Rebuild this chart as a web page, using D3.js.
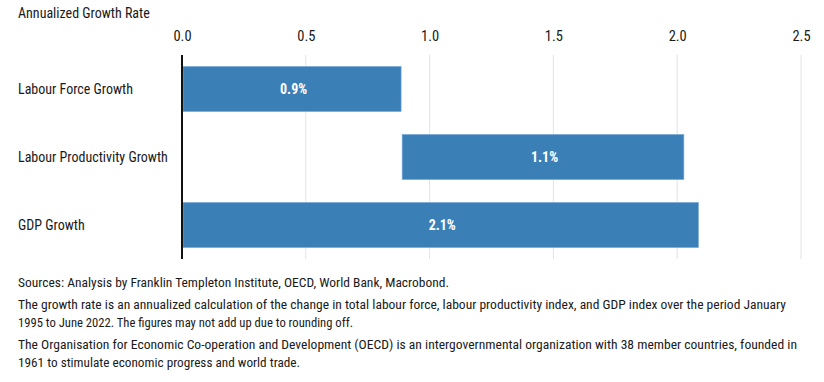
<!DOCTYPE html>
<html><head><meta charset="utf-8">
<script src="https://cdn.jsdelivr.net/npm/d3@7"></script>
<style>
body{margin:0;background:#fff;}
text{font-family:"Liberation Sans Narrow","Roboto Condensed",Roboto,sans-serif;fill:#1a1a1a;}
</style></head>
<body><svg id="c" width="824" height="382"></svg>
<script>
const categories = ["Labour Force Growth","Labour Productivity Growth","GDP Growth"];
const starts = [0, 0.885, 0];
const ends = [0.885, 2.027, 2.086];
const labels = ["0.9%","1.1%","2.1%"];
const ticks = [0,0.5,1.0,1.5,2.0,2.5];
const axisTitle = "Annualized Growth Rate";
const notes = [
 ["Sources: Analysis by Franklin Templeton Institute, OECD, World Bank, Macrobond."],
 ["The growth rate is an annualized calculation of the change in total labour force, labour productivity index, and GDP index over the period January",
  "1995 to June 2022. The figures may not add up due to rounding off."],
 ["The Organisation for Economic Co-operation and Development (OECD) is an intergovernmental organization with 38 member countries, founded in",
  "1961 to stimulate economic progress and world trade."]
];
// layout only: rendered widths of the note lines
const noteWidths = [[431],[768,335],[779,282]];

const svg = d3.select("#c");
const x = d3.scaleLinear().domain([0,2.5]).range([182,801]);
const y = d3.scaleBand().domain(categories).range([55,259]).paddingInner(0.335).paddingOuter(0.1675);

// grid
svg.append("g").selectAll("line").data(ticks.slice(1)).join("line")
 .attr("x1",d=>x(d)).attr("x2",d=>x(d)).attr("y1",55).attr("y2",259)
 .attr("stroke","#e3e3e3").attr("stroke-width",1);

// tick labels
const ax = svg.append("g").attr("transform","translate(0,36)")
 .call(d3.axisTop(x).tickValues(ticks).tickFormat(d3.format(".1f")).tickSize(0).tickPadding(0));
ax.select(".domain").remove();
ax.selectAll("text").attr("font-size",14.5).attr("dy","0.35em").attr("font-family",null);

svg.append("text").attr("x",18).attr("y",13).attr("dy","0.35em").attr("font-size",14).text(axisTitle);

// bars
const idx = d3.range(categories.length);
svg.append("g").selectAll("rect").data(idx).join("rect")
 .attr("x",i=>x(starts[i])+1).attr("width",i=>x(ends[i])-x(starts[i])-1)
 .attr("y",i=>y(categories[i])).attr("height",y.bandwidth())
 .attr("fill","#3b7fb7").attr("stroke","#7fb0db").attr("stroke-width",0.6);

svg.append("g").selectAll("text").data(idx).join("text")
 .attr("x",i=>x((starts[i]+ends[i])/2)+2).attr("y",i=>y(categories[i])+y.bandwidth()/2)
 .attr("dy","0.35em").attr("text-anchor","middle").attr("font-size",14).attr("font-weight","bold")
 .style("fill","#fff").text(i=>labels[i]);

// category labels
svg.append("g").selectAll("text").data(categories).join("text")
 .attr("x",18).attr("y",d=>y(d)+y.bandwidth()/2).attr("dy","0.35em").attr("font-size",14).text(d=>d);

// zero axis
svg.append("line").attr("x1",x(0)).attr("x2",x(0)).attr("y1",55).attr("y2",259)
 .attr("stroke","#111").attr("stroke-width",2);

// notes
let yy = 282;
notes.forEach((para,pi)=>{
  para.forEach((line,li)=>{
    svg.append("text").attr("x",18).attr("y",yy).attr("dy","0.35em").attr("font-size",13.5)
      .attr("textLength",noteWidths[pi][li]).attr("lengthAdjust","spacingAndGlyphs").text(line);
    yy += 18;
  });
  yy += 4;
});
</script></body></html>
